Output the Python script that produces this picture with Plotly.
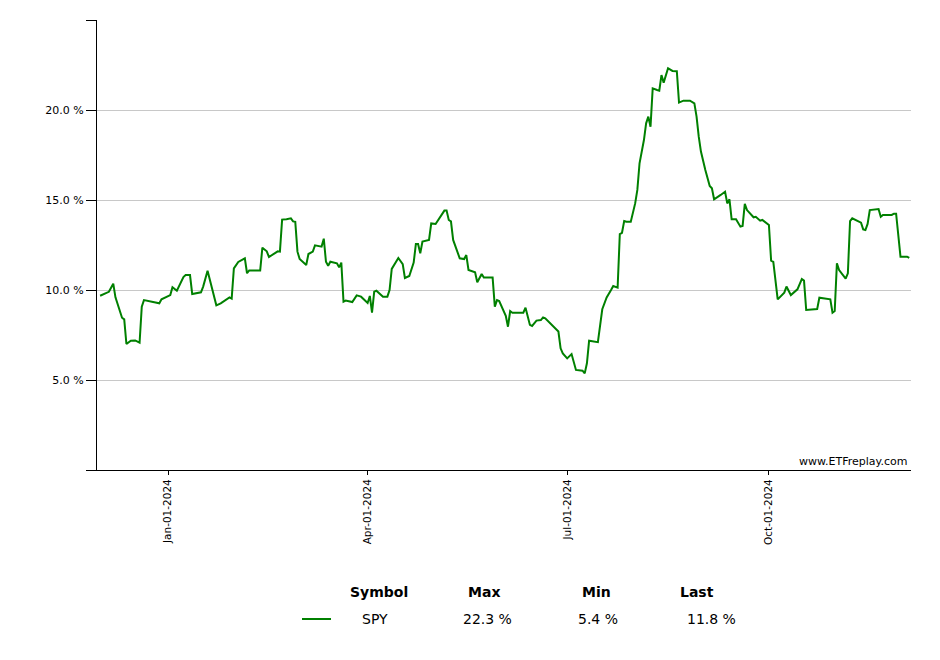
import plotly.graph_objects as go

dates = [
    "2023-12-01", "2023-12-05", "2023-12-07", "2023-12-08", "2023-12-11", "2023-12-12",
    "2023-12-13", "2023-12-14", "2023-12-15", "2023-12-17", "2023-12-19", "2023-12-20",
    "2023-12-21", "2023-12-28", "2023-12-29",
    "2024-01-02", "2024-01-03", "2024-01-05", "2024-01-08", "2024-01-09", "2024-01-11",
    "2024-01-12", "2024-01-16", "2024-01-17", "2024-01-19", "2024-01-23", "2024-01-25",
    "2024-01-29", "2024-01-30", "2024-01-31",
    "2024-02-02", "2024-02-05", "2024-02-06", "2024-02-07", "2024-02-12", "2024-02-13",
    "2024-02-15", "2024-02-16", "2024-02-20", "2024-02-21", "2024-02-22", "2024-02-24",
    "2024-02-26", "2024-02-27", "2024-02-28", "2024-02-29",
    "2024-03-01", "2024-03-04", "2024-03-05", "2024-03-07", "2024-03-08", "2024-03-11",
    "2024-03-12", "2024-03-13", "2024-03-14", "2024-03-15", "2024-03-18", "2024-03-19",
    "2024-03-20", "2024-03-21", "2024-03-22", "2024-03-25", "2024-03-27", "2024-03-29",
    "2024-04-01", "2024-04-02", "2024-04-03", "2024-04-04", "2024-04-05", "2024-04-08",
    "2024-04-10", "2024-04-11", "2024-04-12", "2024-04-15", "2024-04-17", "2024-04-18",
    "2024-04-20", "2024-04-22", "2024-04-23", "2024-04-24", "2024-04-25", "2024-04-26",
    "2024-04-29", "2024-04-30",
    "2024-05-02", "2024-05-06", "2024-05-07", "2024-05-08", "2024-05-09", "2024-05-10",
    "2024-05-13", "2024-05-15", "2024-05-16", "2024-05-17", "2024-05-20", "2024-05-21",
    "2024-05-22", "2024-05-23", "2024-05-24", "2024-05-28", "2024-05-29", "2024-05-30",
    "2024-05-31",
    "2024-06-03", "2024-06-04", "2024-06-05", "2024-06-06", "2024-06-11", "2024-06-12",
    "2024-06-14", "2024-06-15", "2024-06-17", "2024-06-19", "2024-06-20", "2024-06-21",
    "2024-06-26", "2024-06-27", "2024-06-28", "2024-06-29",
    "2024-07-01", "2024-07-03", "2024-07-05", "2024-07-08", "2024-07-09", "2024-07-10",
    "2024-07-11", "2024-07-15", "2024-07-17", "2024-07-19", "2024-07-21", "2024-07-22",
    "2024-07-24", "2024-07-25", "2024-07-26", "2024-07-27", "2024-07-28", "2024-07-30",
    "2024-08-01", "2024-08-02", "2024-08-03", "2024-08-05", "2024-08-06", "2024-08-07",
    "2024-08-08", "2024-08-09", "2024-08-11", "2024-08-12", "2024-08-13", "2024-08-14",
    "2024-08-16", "2024-08-18", "2024-08-20", "2024-08-21", "2024-08-23", "2024-08-26",
    "2024-08-28", "2024-08-29", "2024-08-30", "2024-08-31",
    "2024-09-02", "2024-09-04", "2024-09-05", "2024-09-06", "2024-09-09", "2024-09-11",
    "2024-09-12", "2024-09-13", "2024-09-14", "2024-09-16", "2024-09-18", "2024-09-19",
    "2024-09-20", "2024-09-21", "2024-09-24", "2024-09-25", "2024-09-27", "2024-09-28",
    "2024-10-01", "2024-10-02", "2024-10-03", "2024-10-05", "2024-10-08", "2024-10-09",
    "2024-10-11", "2024-10-12", "2024-10-14", "2024-10-16", "2024-10-17", "2024-10-18",
    "2024-10-23", "2024-10-24", "2024-10-29", "2024-10-30", "2024-10-31",
    "2024-11-01", "2024-11-02", "2024-11-05", "2024-11-06", "2024-11-07", "2024-11-08",
    "2024-11-12", "2024-11-13", "2024-11-14", "2024-11-15", "2024-11-16", "2024-11-20",
    "2024-11-21", "2024-11-22", "2024-11-26", "2024-11-27", "2024-11-28", "2024-11-30",
    "2024-12-03", "2024-12-04",
]

spy = [
    9.68, 9.90, 10.35, 9.59, 8.46, 8.37,
    7.00, 7.11, 7.18, 7.20, 7.07, 9.07,
    9.44, 9.26, 9.48,
    9.72, 10.15, 9.96, 10.72, 10.83, 10.83,
    9.78, 9.87, 10.19, 11.07, 9.15, 9.26,
    9.59, 9.52, 11.20,
    11.56, 11.76, 10.93, 11.09, 11.09, 12.35,
    12.15, 11.83, 12.15, 12.13, 13.91, 13.93,
    13.98, 13.81, 13.79, 12.13,
    11.72, 11.39, 12.00, 12.13, 12.48, 12.41,
    12.85, 11.57, 11.35, 11.57, 11.48, 11.26,
    11.52, 9.35, 9.41, 9.33, 9.70, 9.63,
    9.28, 9.67, 8.74, 9.91, 9.96, 9.63,
    9.63, 10.00, 11.17, 11.78, 11.44, 10.67,
    10.78, 11.52, 12.56, 12.56, 12.04, 12.69,
    12.78, 13.70,
    13.67, 14.41, 14.41, 13.89, 13.81, 12.78,
    11.76, 11.72, 11.94, 11.11, 10.98, 10.43,
    10.65, 10.89, 10.69, 10.69, 9.07, 9.44,
    9.39,
    8.56, 7.96, 8.83, 8.74, 8.74, 9.02,
    8.06, 8.00, 8.30, 8.33, 8.48, 8.43,
    7.78, 7.69, 6.76, 6.48,
    6.20, 6.44, 5.56, 5.52, 5.37, 5.93,
    7.18, 7.10, 8.93, 9.59, 10.00, 10.22,
    10.13, 13.11, 13.18, 13.83, 13.79, 13.79,
    14.81, 15.56, 17.04, 18.33, 19.26, 19.63,
    19.07, 21.20, 21.11, 21.07, 21.94, 21.52,
    22.32, 22.17, 22.15, 20.41, 20.52, 20.52,
    20.37, 19.63, 18.52, 17.69,
    16.67, 15.78, 15.65, 15.04, 15.28, 15.46,
    14.81, 15.04, 13.93, 13.93, 13.52, 13.56,
    14.78, 14.44, 14.04, 14.07, 13.85, 13.89,
    13.61, 11.63, 11.56, 9.48, 9.85, 10.19,
    9.72, 9.81, 10.04, 10.61, 10.52, 8.89,
    8.94, 9.57, 9.48, 8.74, 8.83,
    11.48, 11.11, 10.63, 10.93, 13.83, 13.98,
    13.74, 13.37, 13.33, 13.67, 14.44, 14.50,
    14.07, 14.17, 14.17, 14.24, 14.24, 11.85,
    11.85, 11.78,
]

symbol = "SPY"
y_ticks = [0, 5, 10, 15, 20, 25]
y_tick_labels = ["", "5.0 %", "10.0 %", "15.0 %", "20.0 %", ""]
x_ticks = ["2024-01-01", "2024-04-01", "2024-07-01", "2024-10-01"]
x_range = ["2023-11-29 14:00", "2024-12-04 19:00"]

# The page body adds an 8px offset; work in page pixels and subtract it.
OFF = 8
W, H = 924, 644
L, T = 97 - OFF, 20 - OFF
pw, ph = 814, 450
R, B = W - L - pw, H - T - ph

def px(x):
    return (x - OFF - L) / pw

def py(y):
    return (T + ph - (y - OFF)) / ph

fig = go.Figure()
fig.add_trace(go.Scatter(x=dates, y=spy, mode="lines",
                         line=dict(color="#008000", width=2), name=symbol,
                         showlegend=False))

font_family = "DejaVu Sans, Verdana, sans-serif"

fig.update_layout(
    width=W, height=H,
    margin=dict(l=L, r=R, t=T, b=B, autoexpand=False),
    paper_bgcolor="white", plot_bgcolor="white",
    font=dict(family=font_family, size=11, color="black"),
    xaxis=dict(range=x_range, type="date", tickvals=x_ticks, tickformat="%b-%d-%Y",
               tickangle=-90, ticks="outside", ticklen=4, tickcolor="black",
               showline=True, linecolor="black", linewidth=1, showgrid=False,
               zeroline=False, tickfont=dict(size=10.5)),
    yaxis=dict(range=[0, 25], tickvals=y_ticks, ticktext=y_tick_labels,
               ticks="outside", ticklen=10, tickcolor="black",
               showline=True, linecolor="black", linewidth=1,
               showgrid=True, gridcolor="#c8c8c8", gridwidth=1, zeroline=False,
               tickfont=dict(size=11)),
)

ann = []
ann.append(dict(x=px(909), y=py(461), xref="paper", yref="paper", text="www.ETFreplay.com",
                showarrow=False, xanchor="right", yanchor="middle",
                font=dict(size=11, color="black")))

hdr_y = py(592)
row_y = py(619)
for txt, cx in [("Symbol", 379), ("Max", 484), ("Min", 596), ("Last", 697)]:
    ann.append(dict(x=px(cx), y=hdr_y, xref="paper", yref="paper", text="<b>%s</b>" % txt,
                    showarrow=False, xanchor="center", yanchor="middle",
                    font=dict(size=14, color="black")))

vals = [(symbol, 375), ("%.1f %%" % max(spy), 487), ("%.1f %%" % min(spy), 598),
        ("%.1f %%" % spy[-1], 711)]
for txt, cx in vals:
    ann.append(dict(x=px(cx), y=row_y, xref="paper", yref="paper", text=txt,
                    showarrow=False, xanchor="center", yanchor="middle",
                    font=dict(size=14, color="black")))

fig.update_layout(annotations=ann)
fig.add_shape(type="line", xref="paper", yref="paper", x0=px(302), x1=px(331),
              y0=row_y, y1=row_y, line=dict(color="#008000", width=2))

fig.write_html("out.html")
